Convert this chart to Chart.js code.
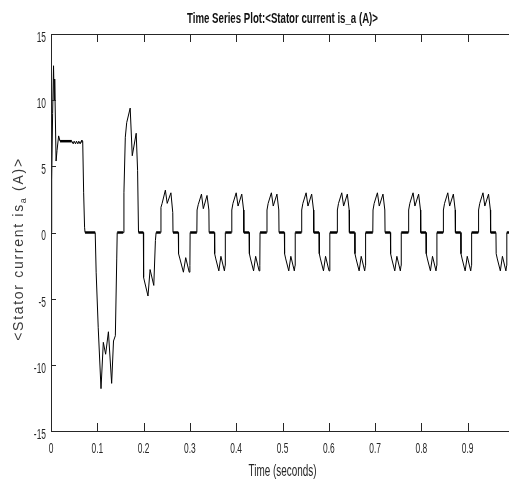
<!DOCTYPE html>
<html>
<head>
<meta charset="utf-8">
<script src="https://cdn.jsdelivr.net/npm/chart.js@4.4.1/dist/chart.umd.min.js"></script>
<style>
  html, body { margin: 0; padding: 0; background: #fff; overflow: hidden; }
  #wrap { width: 520px; height: 496px; }
</style>
</head>
<body>
<div id="wrap"><canvas id="myChart" width="520" height="496"></canvas></div>
<script>
// time (s) and stator current (A)
const timeValues = [
  0, 0.0015, 0.0035, 0.0055, 0.0068, 0.008, 0.011, 0.013, 0.0165, 0.0195,
  0.03, 0.045, 0.048, 0.05, 0.053, 0.055, 0.058, 0.06, 0.063, 0.065,
  0.0685, 0.0705, 0.0725, 0.0735, 0.0955,
  0.0975, 0.102, 0.108, 0.113, 0.118, 0.124, 0.131, 0.135, 0.139, 0.142, 0.143, 0.156,
  0.1575, 0.1605, 0.1635, 0.171, 0.1755, 0.184, 0.187, 0.189, 0.1995,
  0.2, 0.2095, 0.214, 0.222, 0.2255, 0.227, 0.237,
  0.2375, 0.24, 0.247, 0.251, 0.259, 0.263, 0.2635,
  0.275, 0.2755, 0.2785, 0.286, 0.291, 0.2985, 0.3, 0.3005,
  0.315, 0.3155, 0.318, 0.325, 0.329, 0.337, 0.341, 0.3415,
  0.353, 0.3535, 0.356, 0.3625, 0.367, 0.3745, 0.376, 0.3765,
  0.39, 0.3905, 0.393, 0.4, 0.404, 0.412, 0.416, 0.4165,
  0.428, 0.4285, 0.431, 0.4375, 0.442, 0.4495, 0.451, 0.4515,
  0.466, 0.4665, 0.469, 0.476, 0.48, 0.488, 0.492, 0.4925,
  0.504, 0.5045, 0.507, 0.5135, 0.518, 0.5255, 0.527, 0.5275,
  0.541, 0.5415, 0.544, 0.551, 0.555, 0.563, 0.567, 0.5675,
  0.579, 0.5795, 0.582, 0.5885, 0.593, 0.6005, 0.602, 0.6025,
  0.618, 0.6185, 0.621, 0.628, 0.632, 0.64, 0.644, 0.6445,
  0.656, 0.6565, 0.659, 0.6655, 0.67, 0.6775, 0.679, 0.6795,
  0.695, 0.6955, 0.698, 0.705, 0.709, 0.717, 0.721, 0.7215,
  0.733, 0.7335, 0.736, 0.7425, 0.747, 0.7545, 0.756, 0.7565,
  0.772, 0.7725, 0.775, 0.782, 0.786, 0.794, 0.798, 0.7985,
  0.81, 0.8105, 0.813, 0.8195, 0.824, 0.8315, 0.833, 0.8335,
  0.847, 0.8475, 0.85, 0.857, 0.861, 0.869, 0.873, 0.8735,
  0.885, 0.8855, 0.888, 0.8945, 0.899, 0.9065, 0.908, 0.9085,
  0.923, 0.9235, 0.926, 0.933, 0.937, 0.945, 0.949, 0.9495,
  0.961, 0.9615, 0.964, 0.9705, 0.975, 0.9825, 0.984, 0.9845,
  1.0
];
const currentValues = [
  0, 4.0, 9.0, 12.6, 10.0, 11.6, 5.4, 6.2, 7.3, 6.9,
  6.9, 6.9, 6.7, 6.9, 6.7, 6.9, 6.7, 6.9, 6.7, 6.9,
  6.9, 3.0, 0.4, 0, 0,
  -3.0, -7.2, -11.8, -8.3, -9.2, -7.5, -11.4, -8.2, -7.8, -2.0, 0, 0,
  3.0, 7.2, 8.3, 9.4, 5.8, 7.5, 4.7, 0, 0,
  -3.4, -4.8, -2.8, -4.0, -0.6, 0, 0,
  1.9, 2.2, 3.2, 2.2, 3.0, 1.5, 0,
  0, -1.6, -2.0, -3.0, -1.9, -3.0, -2.5, 0,
  0, 1.7, 2.1, 2.9, 1.8, 2.8, 1.7, 0,
  0, -1.6, -2.0, -2.9, -1.8, -2.9, -2.5, 0,
  0, 1.7, 2.2, 3.0, 2.0, 2.9, 1.7, 0,
  0, -1.6, -2.0, -2.9, -1.8, -2.9, -2.5, 0,
  0, 1.7, 2.2, 3.0, 2.0, 2.9, 1.7, 0,
  0, -1.6, -2.0, -2.9, -1.8, -2.9, -2.5, 0,
  0, 1.7, 2.2, 3.0, 2.0, 2.9, 1.7, 0,
  0, -1.6, -2.0, -2.9, -1.8, -2.9, -2.5, 0,
  0, 1.7, 2.2, 3.0, 2.0, 2.9, 1.7, 0,
  0, -1.6, -2.0, -2.9, -1.8, -2.9, -2.5, 0,
  0, 1.7, 2.2, 3.0, 2.0, 2.9, 1.7, 0,
  0, -1.6, -2.0, -2.9, -1.8, -2.9, -2.5, 0,
  0, 1.7, 2.2, 3.0, 2.0, 2.9, 1.7, 0,
  0, -1.6, -2.0, -2.9, -1.8, -2.9, -2.5, 0,
  0, 1.7, 2.2, 3.0, 2.0, 2.9, 1.7, 0,
  0, -1.6, -2.0, -2.9, -1.8, -2.9, -2.5, 0,
  0, 1.7, 2.2, 3.0, 2.0, 2.9, 1.7, 0,
  0, -1.6, -2.0, -2.9, -1.8, -2.9, -2.5, 0,
  0
];
const xTicks = [0, 0.1, 0.2, 0.3, 0.4, 0.5, 0.6, 0.7, 0.8, 0.9];
const xTickLabels = ['0', '0.1', '0.2', '0.3', '0.4', '0.5', '0.6', '0.7', '0.8', '0.9'];
const yTicks = [-15, -10, -5, 0, 5, 10, 15];
const yTickLabels = ['-15', '-10', '-5', '0', '5', '10', '15'];

const chartTitle = 'Time Series Plot:<Stator current is_a (A)>';
const xTitle = 'Time (seconds)';

const sans = '"Liberation Sans", Arial, sans-serif';
const axisColor = '#262626';

// condensed text, the export squeezed the fonts horizontally
const narrowText = (ctx, text, x, y, font, sx, align) => {
    ctx.save();
    ctx.font = font;
    ctx.textAlign = align;
    ctx.translate(x, y);
    ctx.scale(sx, 1);
    ctx.fillText(text, 0, 0);
    ctx.restore();
};

// frame, inward ticks, labels and titles, MATLAB style
const matlabAxes = {
    id: 'matlabAxes',
    afterDraw(chart) {
        const { ctx, chartArea: a, scales } = chart;
        const x = scales.x, y = scales.y;
        ctx.save();
        ctx.strokeStyle = axisColor;
        ctx.lineWidth = 1;
        ctx.beginPath();
        ctx.moveTo(a.left + 0.5, a.top + 0.5);
        ctx.lineTo(a.left + 0.5, a.bottom + 0.5);
        ctx.lineTo(a.right, a.bottom + 0.5);
        ctx.moveTo(a.left + 0.5, a.top + 0.5);
        ctx.lineTo(a.right, a.top + 0.5);
        xTicks.forEach(v => {
            const px = Math.round(x.getPixelForValue(v)) + 0.5;
            ctx.moveTo(px, a.bottom);
            ctx.lineTo(px, a.bottom - 8);
            ctx.moveTo(px, a.top);
            ctx.lineTo(px, a.top + 8);
        });
        yTicks.forEach(v => {
            const py = Math.round(y.getPixelForValue(v)) + 0.5;
            ctx.moveTo(a.left, py);
            ctx.lineTo(a.left + 5, py);
        });
        ctx.stroke();

        ctx.fillStyle = axisColor;
        ctx.textBaseline = 'middle';
        xTicks.forEach((v, i) => {
            narrowText(ctx, xTickLabels[i], x.getPixelForValue(v), 449, '14px ' + sans, 0.6, 'center');
        });
        yTicks.forEach((v, i) => {
            narrowText(ctx, yTickLabels[i], a.left - 5, y.getPixelForValue(v) + 4, '14px ' + sans, 0.6, 'right');
        });

        ctx.textBaseline = 'alphabetic';
        ctx.fillStyle = '#111';
        narrowText(ctx, chartTitle, (a.left + a.right) / 2, 23, 'bold 14px ' + sans, 0.69, 'center');
        ctx.fillStyle = axisColor;
        narrowText(ctx, xTitle, (a.left + a.right) / 2, 476, '16px ' + sans, 0.62, 'center');

        // y title with subscript
        ctx.textBaseline = 'middle';
        ctx.translate(19, 249);
        ctx.rotate(-Math.PI / 2);
        ctx.fillStyle = '#3a3a3a';
        ctx.letterSpacing = '1.7px';
        const p1 = '<Stator current is', sub = 'a', p2 = ' (A)>';
        ctx.font = '14px ' + sans;
        const w1 = ctx.measureText(p1).width, w2 = ctx.measureText(p2).width;
        ctx.font = '9px ' + sans;
        const ws = ctx.measureText(sub).width;
        let sx = -(w1 + ws + w2) / 2;
        ctx.textAlign = 'left';
        ctx.font = '14px ' + sans;
        ctx.fillText(p1, sx, 0);
        sx += w1;
        ctx.font = '9px ' + sans;
        ctx.fillText(sub, sx, 5);
        sx += ws;
        ctx.font = '14px ' + sans;
        ctx.fillText(p2, sx, 0);
        ctx.restore();
    }
};

new Chart(document.getElementById('myChart'), {
    type: 'line',
    data: {
        datasets: [{
            label: 'is_a',
            data: timeValues.map((t, i) => ({ x: t, y: currentValues[i] })),
            borderColor: '#000',
            borderWidth: 1,
            pointRadius: 0,
            tension: 0,
            fill: false,
            segment: {
                borderWidth: ctx => ctx.p0.parsed.y === ctx.p1.parsed.y ? 2.5 : 1
            }
        }]
    },
    options: {
        responsive: false,
        animation: false,
        layout: { padding: { top: 34, right: 6, left: 0, bottom: 0 } },
        plugins: { legend: { display: false }, tooltip: { enabled: false }, title: { display: false } },
        scales: {
            x: {
                type: 'linear',
                min: 0,
                max: 1,
                afterBuildTicks: s => { s.ticks = xTicks.map(v => ({ value: v })); },
                afterFit: s => { s.height = 65; },
                grid: { display: false, drawTicks: false },
                border: { display: false },
                ticks: { display: false }
            },
            y: {
                type: 'linear',
                min: -15,
                max: 15,
                afterBuildTicks: s => { s.ticks = yTicks.map(v => ({ value: v })); },
                afterFit: s => { s.width = 51; },
                grid: { display: false, drawTicks: false },
                border: { display: false },
                ticks: { display: false }
            }
        }
    },
    plugins: [matlabAxes]
});
</script>
</body>
</html>
